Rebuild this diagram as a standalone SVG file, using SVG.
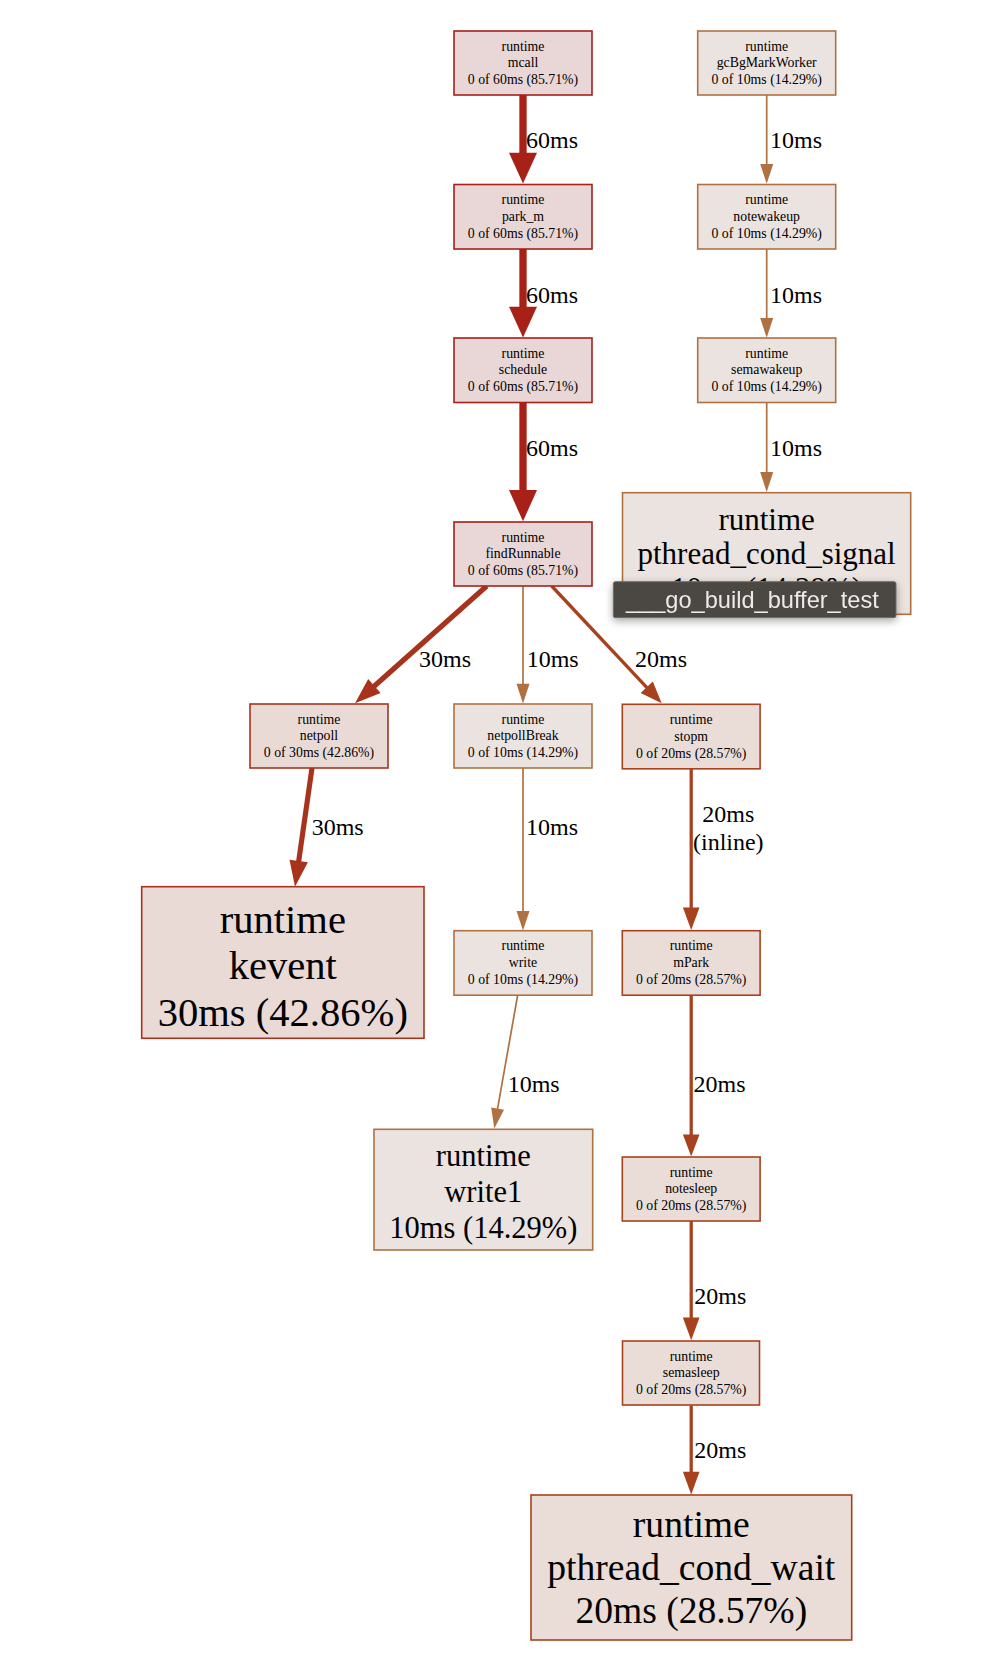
<svg xmlns="http://www.w3.org/2000/svg" width="1002" height="1680" viewBox="0 0 1002 1680">
<defs>
<style>
.bg{fill:#ffffff}
rect.n{stroke-width:1.6}
.n-red{fill:#e9d6d6;stroke:#a72118}
.n-brn{fill:#ebe3df;stroke:#af7141}
.n-o30{fill:#eadad6;stroke:#a8331d}
.n-o20{fill:#eadcd6;stroke:#a8411d}
text{font-family:"Liberation Serif","Times New Roman",serif;fill:#000}
.ts{font-size:13.8px;text-anchor:middle}
.te{font-size:24px}
.tc{text-anchor:middle}
.e{fill:none}
.e-red{stroke:#a72118;stroke-width:7.3}
.e-brn{stroke:#af7141;stroke-width:1.7}
.e-o30{stroke:#a8331d;stroke-width:5.2}
.e-o20{stroke:#a8411d;stroke-width:3.3}
.a-red{fill:#a72118}
.a-brn{fill:#af7141}
.a-o30{fill:#a8331d}
.a-o20{fill:#a8411d}
.tip{fill:#4b4643;stroke:#726e6b;stroke-width:1}
.tipt{font-family:"Liberation Sans",Arial,sans-serif;font-size:23.6px;fill:#ecebea}
</style>
<filter id="sh" x="-10%" y="-40%" width="120%" height="190%">
<feGaussianBlur in="SourceAlpha" stdDeviation="4"/>
<feOffset dy="3" result="b"/>
<feComponentTransfer><feFuncA type="linear" slope="0.35"/></feComponentTransfer>
<feMerge><feMergeNode/><feMergeNode in="SourceGraphic"/></feMerge>
</filter>
</defs>
<rect class="bg" x="0" y="0" width="1002" height="1680"/>

<g id="connectors">
<!-- mcall -> park_m -->
<line class="e e-red" x1="523" y1="95" x2="523" y2="154"/>
<polygon class="a-red" points="509,152.7 537,152.7 523,183.6"/>
<text class="te" x="526" y="148.3">60ms</text>
<!-- park_m -> schedule -->
<line class="e e-red" x1="523" y1="249" x2="523" y2="308"/>
<polygon class="a-red" points="509,306.7 537,306.7 523,337.6"/>
<text class="te" x="526" y="302.7">60ms</text>
<!-- schedule -> findRunnable -->
<line class="e e-red" x1="523" y1="402.5" x2="523" y2="491"/>
<polygon class="a-red" points="509,490 537,490 523,521.3"/>
<text class="te" x="526" y="456">60ms</text>

<!-- gcBgMarkWorker -> notewakeup -->
<line class="e e-brn" x1="766.7" y1="95" x2="766.7" y2="165"/>
<polygon class="a-brn" points="760.2,164 773.2,164 766.7,183.8"/>
<text class="te" x="770" y="148.3">10ms</text>
<!-- notewakeup -> semawakeup -->
<line class="e e-brn" x1="766.7" y1="249" x2="766.7" y2="319"/>
<polygon class="a-brn" points="760.2,318 773.2,318 766.7,337.8"/>
<text class="te" x="770" y="302.7">10ms</text>
<!-- semawakeup -> pthread_cond_signal -->
<line class="e e-brn" x1="766.7" y1="402.5" x2="766.7" y2="473"/>
<polygon class="a-brn" points="760.2,472 773.2,472 766.7,492"/>
<text class="te" x="770" y="456">10ms</text>

<!-- findRunnable -> netpoll -->
<line class="e e-o30" x1="486.7" y1="586" x2="373" y2="687.3"/>
<polygon class="a-o30" points="380.6,692.9 368.2,679.1 355,703.3"/>
<text class="te" x="419" y="667">30ms</text>
<!-- findRunnable -> netpollBreak -->
<line class="e e-brn" x1="523" y1="586" x2="523" y2="685"/>
<polygon class="a-brn" points="516.5,683.7 529.5,683.7 523,703.5"/>
<text class="te" x="526.7" y="667">10ms</text>
<!-- findRunnable -> stopm -->
<line class="e e-o20" x1="551.7" y1="586" x2="647.6" y2="688.3"/>
<polygon class="a-o20" points="640.6,693 652.8,681.6 661.7,703.3"/>
<text class="te" x="635" y="667">20ms</text>

<!-- netpoll -> kevent -->
<line class="e e-o30" x1="312" y1="768" x2="298.5" y2="862.5"/>
<polygon class="a-o30" points="307.9,862.3 289.5,859.7 295,886.7"/>
<text class="te" x="311.7" y="835">30ms</text>
<!-- netpollBreak -> write -->
<line class="e e-brn" x1="523" y1="768" x2="523" y2="912"/>
<polygon class="a-brn" points="516.5,911 529.5,911 523,930.6"/>
<text class="te" x="526" y="835">10ms</text>
<!-- stopm -> mPark -->
<line class="e e-o20" x1="691.2" y1="768.5" x2="691.2" y2="909"/>
<polygon class="a-o20" points="682.9,907.5 699.5,907.5 691.2,930"/>
<text class="te tc" x="728.3" y="821.7">20ms</text>
<text class="te tc" x="728.3" y="849.5">(inline)</text>

<!-- write -> write1 -->
<line class="e e-brn" x1="517.7" y1="995" x2="497.4" y2="1109.6"/>
<polygon class="a-brn" points="504,1109.7 491.2,1107.5 494.3,1128.6"/>
<text class="te" x="507.7" y="1091.7">10ms</text>
<!-- mPark -> notesleep -->
<line class="e e-o20" x1="691.2" y1="995" x2="691.2" y2="1136"/>
<polygon class="a-o20" points="682.9,1134.5 699.5,1134.5 691.2,1156.6"/>
<text class="te" x="693.5" y="1092">20ms</text>
<!-- notesleep -> semasleep -->
<line class="e e-o20" x1="691.2" y1="1221" x2="691.2" y2="1319"/>
<polygon class="a-o20" points="682.9,1317.5 699.5,1317.5 691.2,1340.2"/>
<text class="te" x="694.3" y="1304">20ms</text>
<!-- semasleep -> pthread_cond_wait -->
<line class="e e-o20" x1="691.2" y1="1405.5" x2="691.2" y2="1473"/>
<polygon class="a-o20" points="682.9,1471.7 699.5,1471.7 691.2,1494.4"/>
<text class="te" x="694.3" y="1458">20ms</text>
</g>

<g id="node-mcall">
<rect class="n n-red" x="454" y="31" width="138" height="64"/>
<text class="ts" x="523" y="50.7">runtime</text>
<text class="ts" x="523" y="67.3">mcall</text>
<text class="ts" x="523" y="84.3">0 of 60ms (85.71%)</text>
</g>
<g id="node-park_m">
<rect class="n n-red" x="454" y="184.5" width="138" height="64.5"/>
<text class="ts" x="523" y="204.2">runtime</text>
<text class="ts" x="523" y="220.8">park_m</text>
<text class="ts" x="523" y="237.8">0 of 60ms (85.71%)</text>
</g>
<g id="node-schedule">
<rect class="n n-red" x="454" y="338" width="138" height="64.5"/>
<text class="ts" x="523" y="357.7">runtime</text>
<text class="ts" x="523" y="374.3">schedule</text>
<text class="ts" x="523" y="391.3">0 of 60ms (85.71%)</text>
</g>
<g id="node-findRunnable">
<rect class="n n-red" x="454" y="522" width="138" height="64"/>
<text class="ts" x="523" y="541.7">runtime</text>
<text class="ts" x="523" y="558.3">findRunnable</text>
<text class="ts" x="523" y="575.3">0 of 60ms (85.71%)</text>
</g>

<g id="node-gcBgMarkWorker">
<rect class="n n-brn" x="697.7" y="31" width="138" height="64"/>
<text class="ts" x="766.7" y="50.7">runtime</text>
<text class="ts" x="766.7" y="67.3">gcBgMarkWorker</text>
<text class="ts" x="766.7" y="84.3">0 of 10ms (14.29%)</text>
</g>
<g id="node-notewakeup">
<rect class="n n-brn" x="697.7" y="184.5" width="138" height="64.5"/>
<text class="ts" x="766.7" y="204.2">runtime</text>
<text class="ts" x="766.7" y="220.8">notewakeup</text>
<text class="ts" x="766.7" y="237.8">0 of 10ms (14.29%)</text>
</g>
<g id="node-semawakeup">
<rect class="n n-brn" x="697.7" y="338" width="138" height="64.5"/>
<text class="ts" x="766.7" y="357.7">runtime</text>
<text class="ts" x="766.7" y="374.3">semawakeup</text>
<text class="ts" x="766.7" y="391.3">0 of 10ms (14.29%)</text>
</g>
<g id="node-pthread_cond_signal">
<rect class="n n-brn" x="622.5" y="492.7" width="288.2" height="121.6"/>
<text class="tc" x="766.6" y="529.5" font-size="31">runtime</text>
<text class="tc" x="766.6" y="564" font-size="31">pthread_cond_signal</text>
<text class="tc" x="766.6" y="598.8" font-size="31">10ms (14.29%)</text>
</g>

<g id="node-netpoll">
<rect class="n n-o30" x="250" y="704" width="138" height="64"/>
<text class="ts" x="319" y="723.7">runtime</text>
<text class="ts" x="319" y="740.3">netpoll</text>
<text class="ts" x="319" y="757.3">0 of 30ms (42.86%)</text>
</g>
<g id="node-netpollBreak">
<rect class="n n-brn" x="454" y="704" width="138" height="64"/>
<text class="ts" x="523" y="723.7">runtime</text>
<text class="ts" x="523" y="740.3">netpollBreak</text>
<text class="ts" x="523" y="757.3">0 of 10ms (14.29%)</text>
</g>
<g id="node-stopm">
<rect class="n n-o20" x="622.3" y="704.3" width="137.8" height="64.5"/>
<text class="ts" x="691.2" y="724">runtime</text>
<text class="ts" x="691.2" y="740.6">stopm</text>
<text class="ts" x="691.2" y="757.6">0 of 20ms (28.57%)</text>
</g>

<g id="node-kevent">
<rect class="n n-o30" x="141.7" y="886.7" width="282.3" height="151.6"/>
<text class="tc" x="282.8" y="933.3" font-size="40.6">runtime</text>
<text class="tc" x="282.8" y="979.3" font-size="40.6">kevent</text>
<text class="tc" x="282.8" y="1026" font-size="40.6">30ms (42.86%)</text>
</g>
<g id="node-write">
<rect class="n n-brn" x="454" y="930.7" width="138" height="64.5"/>
<text class="ts" x="523" y="950.4">runtime</text>
<text class="ts" x="523" y="967">write</text>
<text class="ts" x="523" y="984">0 of 10ms (14.29%)</text>
</g>
<g id="node-mPark">
<rect class="n n-o20" x="622.3" y="930.7" width="137.8" height="64.5"/>
<text class="ts" x="691.2" y="950.4">runtime</text>
<text class="ts" x="691.2" y="967">mPark</text>
<text class="ts" x="691.2" y="984">0 of 20ms (28.57%)</text>
</g>
<g id="node-write1">
<rect class="n n-brn" x="374" y="1129.3" width="218.7" height="120.7"/>
<text class="tc" x="483.3" y="1165.7" font-size="30.5">runtime</text>
<text class="tc" x="483.3" y="1201.7" font-size="30.5">write1</text>
<text class="tc" x="483.3" y="1238" font-size="30.5">10ms (14.29%)</text>
</g>
<g id="node-notesleep">
<rect class="n n-o20" x="622.3" y="1157" width="137.8" height="64"/>
<text class="ts" x="691.2" y="1176.7">runtime</text>
<text class="ts" x="691.2" y="1193.3">notesleep</text>
<text class="ts" x="691.2" y="1210.3">0 of 20ms (28.57%)</text>
</g>
<g id="node-semasleep">
<rect class="n n-o20" x="622.5" y="1341" width="137" height="64"/>
<text class="ts" x="691.2" y="1360.7">runtime</text>
<text class="ts" x="691.2" y="1377.3">semasleep</text>
<text class="ts" x="691.2" y="1394.3">0 of 20ms (28.57%)</text>
</g>
<g id="node-pthread_cond_wait">
<rect class="n n-o20" x="531" y="1495" width="320.7" height="145"/>
<text class="tc" x="691.3" y="1537.3" font-size="37.6">runtime</text>
<text class="tc" x="691.3" y="1580" font-size="37.6">pthread_cond_wait</text>
<text class="tc" x="691.3" y="1623.3" font-size="37.6">20ms (28.57%)</text>
</g>

<g id="tooltip" filter="url(#sh)">
<rect class="tip" x="613.3" y="581.7" width="282.7" height="36" rx="2"/>
<text class="tipt" x="626" y="608.3">___go_build_buffer_test</text>
</g>
</svg>
